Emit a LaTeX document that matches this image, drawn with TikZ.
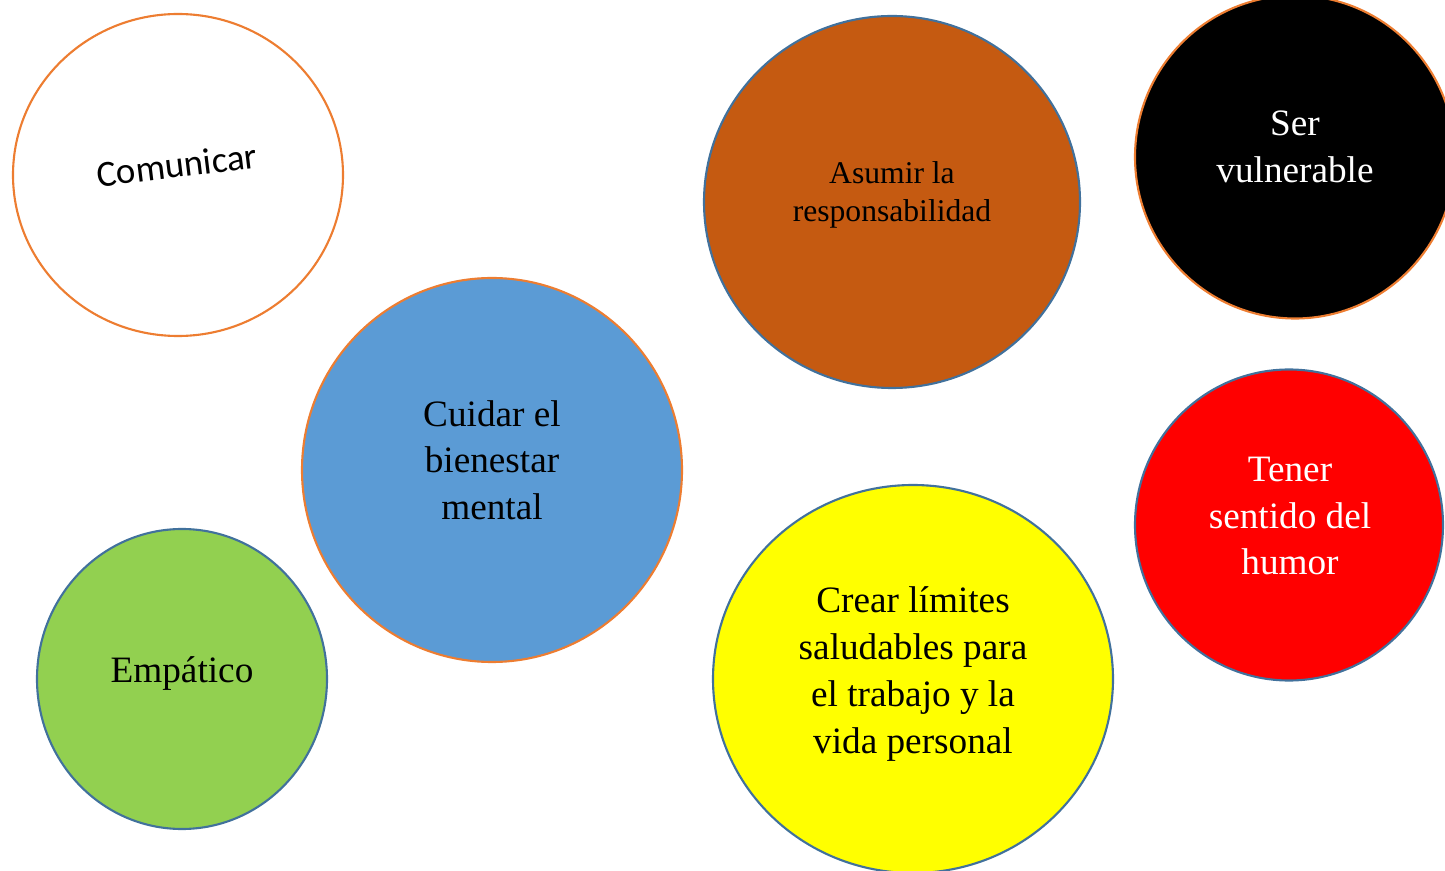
\documentclass[tikz,border=0pt]{standalone}
\usepackage{fontspec}
\setmainfont{Liberation Serif}
\newfontfamily\calibri{Carlito}
\usetikzlibrary{shapes.geometric}
\newlength\px
\setlength\px{0.02cm}
\definecolor{bordeNaranja}{HTML}{ED7D31}
\definecolor{bordeAzul}{HTML}{41719C}
\definecolor{cafe}{HTML}{C55A11}
\definecolor{azul}{HTML}{5B9BD5}
\definecolor{verde}{HTML}{92D050}
\definecolor{amarillo}{HTML}{FFFF00}
\tikzset{
  burbuja/.style={ellipse, draw, line width=1.2pt, inner sep=0pt},
  texto/.style={align=center, font=\fontsize{21.2}{26.6}\selectfont},
}
\begin{document}
\begin{tikzpicture}[x=0.02cm,y=-0.02cm]
    \useasboundingbox (0,0) rectangle (1445,871);
    \clip (0,0) rectangle (1445,871);
    % burbujas
    \node[burbuja, draw=bordeNaranja, fill=white, minimum width=330\px, minimum height=322\px] (comunicar) at (178,175) {};
    \node[burbuja, draw=bordeAzul, fill=cafe, minimum width=376\px, minimum height=372\px] (asumir) at (892,202) {};
    \node[burbuja, draw=bordeNaranja, fill=black, minimum width=320\px, minimum height=323\px] (vulnerable) at (1295,157) {};
    \node[burbuja, draw=bordeNaranja, fill=azul, minimum width=380\px, minimum height=384\px] (cuidar) at (492,470) {};
    \node[burbuja, draw=bordeAzul, fill=red, minimum width=308\px, minimum height=311\px] (humor) at (1289,525) {};
    \node[burbuja, draw=bordeAzul, fill=verde, minimum width=290\px, minimum height=300\px] (empatico) at (182,679) {};
    \node[burbuja, draw=bordeAzul, fill=amarillo, minimum width=400\px, minimum height=388\px] (limites) at (913,679) {};
    % textos
    \node[font=\calibri\fontsize{21}{25}\selectfont, rotate=7] (tcomunicar) at (177,165) {Comunicar};
    \node[align=center, font=\fontsize{18}{22}\selectfont] (tasumir) at (892,195) {Asumir la\\responsabilidad};
    \node[texto, text=white] (tvulnerable) at (1295,147) {Ser\\vulnerable};
    \node[texto] (tcuidar) at (492,460) {Cuidar el\\bienestar\\mental};
    \node[texto, text=white] (thumor) at (1290,516) {Tener\\sentido del\\humor};
    \node[texto] (tempatico) at (182,674) {Empático};
    \node[texto] (tlimites) at (913,674) {Crear límites\\saludables para\\el trabajo y la\\vida personal};
\end{tikzpicture}
\end{document}
